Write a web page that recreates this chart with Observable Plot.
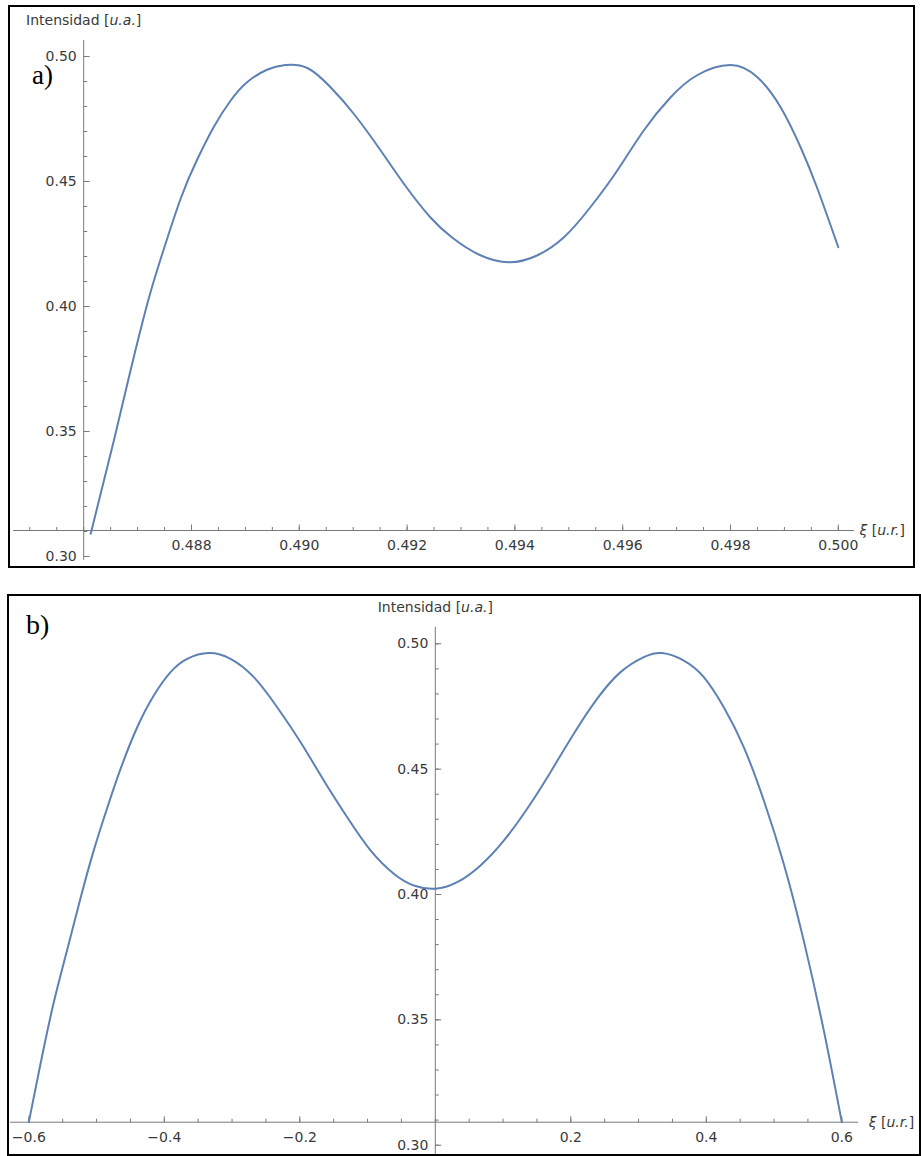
<!DOCTYPE html>
<html>
<head>
<meta charset="utf-8">
<script src="https://cdn.jsdelivr.net/npm/d3@7"></script>
<script src="https://cdn.jsdelivr.net/npm/@observablehq/plot@0.6"></script>
<style>
html, body { margin: 0; padding: 0; background: #fff; }
#page { position: relative; width: 921px; height: 1156px; overflow: hidden; background: #fff; }
.panel { position: absolute; left: 0; }
.frame { position: absolute; border: 2px solid #000; box-sizing: border-box; pointer-events: none; }
.tag { position: absolute; font-family: "Liberation Serif", "Times New Roman", serif; color: #000; line-height: 1; }
svg text { white-space: pre; }
</style>
</head>
<body>
<div id="page"></div>
<script>
// ---------- data ----------
// panel a)
const xiA  = [0.48613, 0.48656, 0.48687, 0.48718, 0.48742, 0.48780, 0.48811, 0.48841, 0.48872, 0.48903,
              0.48940, 0.48974, 0.49015, 0.49058, 0.49101, 0.49151, 0.49194, 0.49243, 0.49284, 0.49333,
              0.49389, 0.49441, 0.49491, 0.49540, 0.49590, 0.49639, 0.49689, 0.49738, 0.49800, 0.49850,
              0.49893, 0.49930, 0.49961, 0.50000];
const intA = [0.3091, 0.3464, 0.3745, 0.4011, 0.4185, 0.4432, 0.4590, 0.4717, 0.4822, 0.4897,
              0.4947, 0.4966, 0.4954, 0.4877, 0.4771, 0.4624, 0.4491, 0.4357, 0.4275, 0.4208,
              0.4177, 0.4204, 0.4277, 0.4397, 0.4544, 0.4704, 0.4837, 0.4925, 0.4966, 0.4917,
              0.4797, 0.4637, 0.4473, 0.4237];
// panel b)
const xiB  = [-0.6000, -0.5827, -0.5631, -0.5433, -0.5237, -0.5041, -0.4843, -0.4647, -0.4400, -0.4155,
              -0.3908, -0.3662, -0.3343, -0.3023, -0.2679, -0.2334, -0.1990, -0.1646, -0.1300, -0.0956,
              -0.0613, -0.0317, 0.0000, 0.0323, 0.0667, 0.1011, 0.1356, 0.1700, 0.2044, 0.2390,
              0.2734, 0.3077, 0.3349, 0.3668, 0.3963, 0.4258, 0.4553, 0.4849, 0.5144, 0.5439,
              0.5734, 0.6000];
const intB = [0.3092, 0.3325, 0.3570, 0.3780, 0.3985, 0.4176, 0.4345, 0.4500, 0.4667, 0.4794,
              0.4887, 0.4940, 0.4963, 0.4940, 0.4867, 0.4747, 0.4608, 0.4455, 0.4308, 0.4176,
              0.4083, 0.4036, 0.4023, 0.4049, 0.4116, 0.4215, 0.4342, 0.4488, 0.4641, 0.4781,
              0.4887, 0.4947, 0.4963, 0.4933, 0.4867, 0.4747, 0.4588, 0.4375, 0.4122, 0.3815,
              0.3458, 0.3092];

// ticks
const xTicksA = [0.488, 0.490, 0.492, 0.494, 0.496, 0.498, 0.500];
const xTickLabelsA = ["0.488", "0.490", "0.492", "0.494", "0.496", "0.498", "0.500"];
const xTicksB = [-0.6, -0.4, -0.2, 0.2, 0.4, 0.6];
const xTickLabelsB = ["\u22120.6", "\u22120.4", "\u22120.2", "0.2", "0.4", "0.6"];
const yTicks = [0.30, 0.35, 0.40, 0.45, 0.50];
const yTickLabels = ["0.30", "0.35", "0.40", "0.45", "0.50"];

// axes (data units): where the axes cross and how far the axis lines run
const originA = [0.486, 0.3104];
const xAxisSpanA = [0.4847, 0.5003];
const yAxisSpanA = [0.2985, 0.5064];
const originB = [0, 0.30917];
const xAxisSpanB = [-0.627, 0.625];
const yAxisSpanB = [0.2960, 0.5066];

const yTitle = "Intensidad [u.a.]";
const xTitle = "\u03BE [u.r.]";
const panelTags = ["a)", "b)"];

// ---------- styling ----------
const curveColor = "#5E81B5";
const axisColor = "#7a7a7a";
const labelColor = "#3a3a3a";
const font = "DejaVu Sans";

const italicParts = {
  "Intensidad [u.a.]": [["Intensidad [", false], ["u.a.", true], ["]", false]],
  "\u03BE [u.r.]": [["\u03BE", true], [" [", false], ["u.r.", true], ["]", false]]
};

function tickSymbol(len, dir) {
  return {
    draw(ctx) {
      ctx.moveTo(0, 0);
      if (dir === "up") ctx.lineTo(0, -len);
      else ctx.lineTo(len, 0);
    }
  };
}

function buildPanel(cfg) {
  const curve = cfg.xi.map((x, i) => ({x, y: cfg.int[i]}));
  const xMaj = cfg.xTicks.map((v, i) => ({v, label: cfg.xLabels[i]}));
  const yMaj = yTicks.map((v, i) => ({v, label: yTickLabels[i]}));
  const xMin = d3.range(cfg.minorX[0], cfg.minorX[1] + 1).map(k => k * cfg.minorX[2]);
  const yMin = d3.range(30, 51).map(k => k / 100);
  const [ox, oy] = cfg.origin;
  const svg = Plot.plot({
    width: 921,
    height: cfg.height,
    margin: 0,
    x: {domain: cfg.xDomain, range: cfg.xRange, axis: null},
    y: {domain: [0.30, 0.50], range: cfg.yRange, axis: null},
    style: {background: "transparent", overflow: "visible", fontFamily: font},
    marks: [
      Plot.ruleY([oy], {x1: cfg.xSpan[0], x2: cfg.xSpan[1], stroke: axisColor, strokeWidth: 1}),
      Plot.ruleX([ox], {y1: cfg.ySpan[0], y2: cfg.ySpan[1], stroke: axisColor, strokeWidth: 1}),
      Plot.dot(xMin, {x: d => d, y: () => oy, symbol: tickSymbol(3.5, "up"), stroke: axisColor, fill: "none", strokeWidth: 1}),
      Plot.dot(xMaj, {x: "v", y: () => oy, symbol: tickSymbol(6, "up"), stroke: axisColor, fill: "none", strokeWidth: 1}),
      Plot.dot(yMin, {x: () => ox, y: d => d, symbol: tickSymbol(3.5, "right"), stroke: axisColor, fill: "none", strokeWidth: 1}),
      Plot.dot(yMaj, {x: () => ox, y: "v", symbol: tickSymbol(6, "right"), stroke: axisColor, fill: "none", strokeWidth: 1}),
      Plot.text(xMaj, {x: "v", y: () => oy, text: "label", dy: 15, textAnchor: "middle", fill: labelColor, fontSize: 14, fontFamily: font}),
      Plot.text(yMaj, {x: () => ox, y: "v", text: "label", dx: -7, textAnchor: "end", fill: labelColor, fontSize: 14, fontFamily: font}),
      Plot.text([yTitle], {x: () => ox, y: () => cfg.ySpan[1], text: d => d, dy: -20, textAnchor: "middle", fill: labelColor, fontSize: 14, fontFamily: font}),
      Plot.text([xTitle], {x: () => cfg.xSpan[1], y: () => oy, text: d => d, dx: cfg.xTitleDx, textAnchor: "start", fill: labelColor, fontSize: 14, fontFamily: font}),
      Plot.line(curve, {x: "x", y: "y", stroke: curveColor, strokeWidth: 2, curve: "natural"})
    ]
  });
  d3.select(svg).selectAll("text").each(function () {
    const parts = italicParts[this.textContent];
    if (!parts) return;
    const sel = d3.select(this);
    sel.text(null);
    parts.forEach(([s, it]) => sel.append("tspan").attr("font-style", it ? "italic" : null).text(s));
  });
  return svg;
}

const page = document.getElementById("page");

function addPanel(svg, top, frame, tag) {
  const holder = document.createElement("div");
  holder.className = "panel";
  holder.style.top = top + "px";
  holder.appendChild(svg);
  page.appendChild(holder);
  const f = document.createElement("div");
  f.className = "frame";
  Object.assign(f.style, {left: frame[0] + "px", top: frame[1] + "px", width: frame[2] + "px", height: frame[3] + "px"});
  page.appendChild(f);
  const t = document.createElement("div");
  t.className = "tag";
  t.textContent = tag.text;
  Object.assign(t.style, {left: tag.left + "px", top: tag.top + "px", fontSize: tag.size + "px"});
  page.appendChild(t);
}

const svgA = buildPanel({
  xi: xiA, int: intA, xTicks: xTicksA, xLabels: xTickLabelsA,
  minorX: [970, 1000, 0.0005],
  origin: originA, xSpan: xAxisSpanA, ySpan: yAxisSpanA,
  xDomain: [0.4847, 0.5003], xRange: [13.13, 853.97],
  yRange: [556, 56], height: 580, xTitleDx: 5
});
addPanel(svgA, 0, [8, 5, 907, 563], {text: panelTags[0], left: 32, top: 62, size: 27});

const svgB = buildPanel({
  xi: xiB, int: intB, xTicks: xTicksB, xLabels: xTickLabelsB,
  minorX: [-12, 12, 0.05],
  origin: originB, xSpan: xAxisSpanB, ySpan: yAxisSpanB,
  xDomain: [-0.6, 0.6], xRange: [28.3, 841.3],
  yRange: [564.7, 63.3], height: 576, xTitleDx: 10
});
addPanel(svgB, 580, [7, 594, 914, 562], {text: panelTags[1], left: 26, top: 611, size: 28});
</script>
</body>
</html>
